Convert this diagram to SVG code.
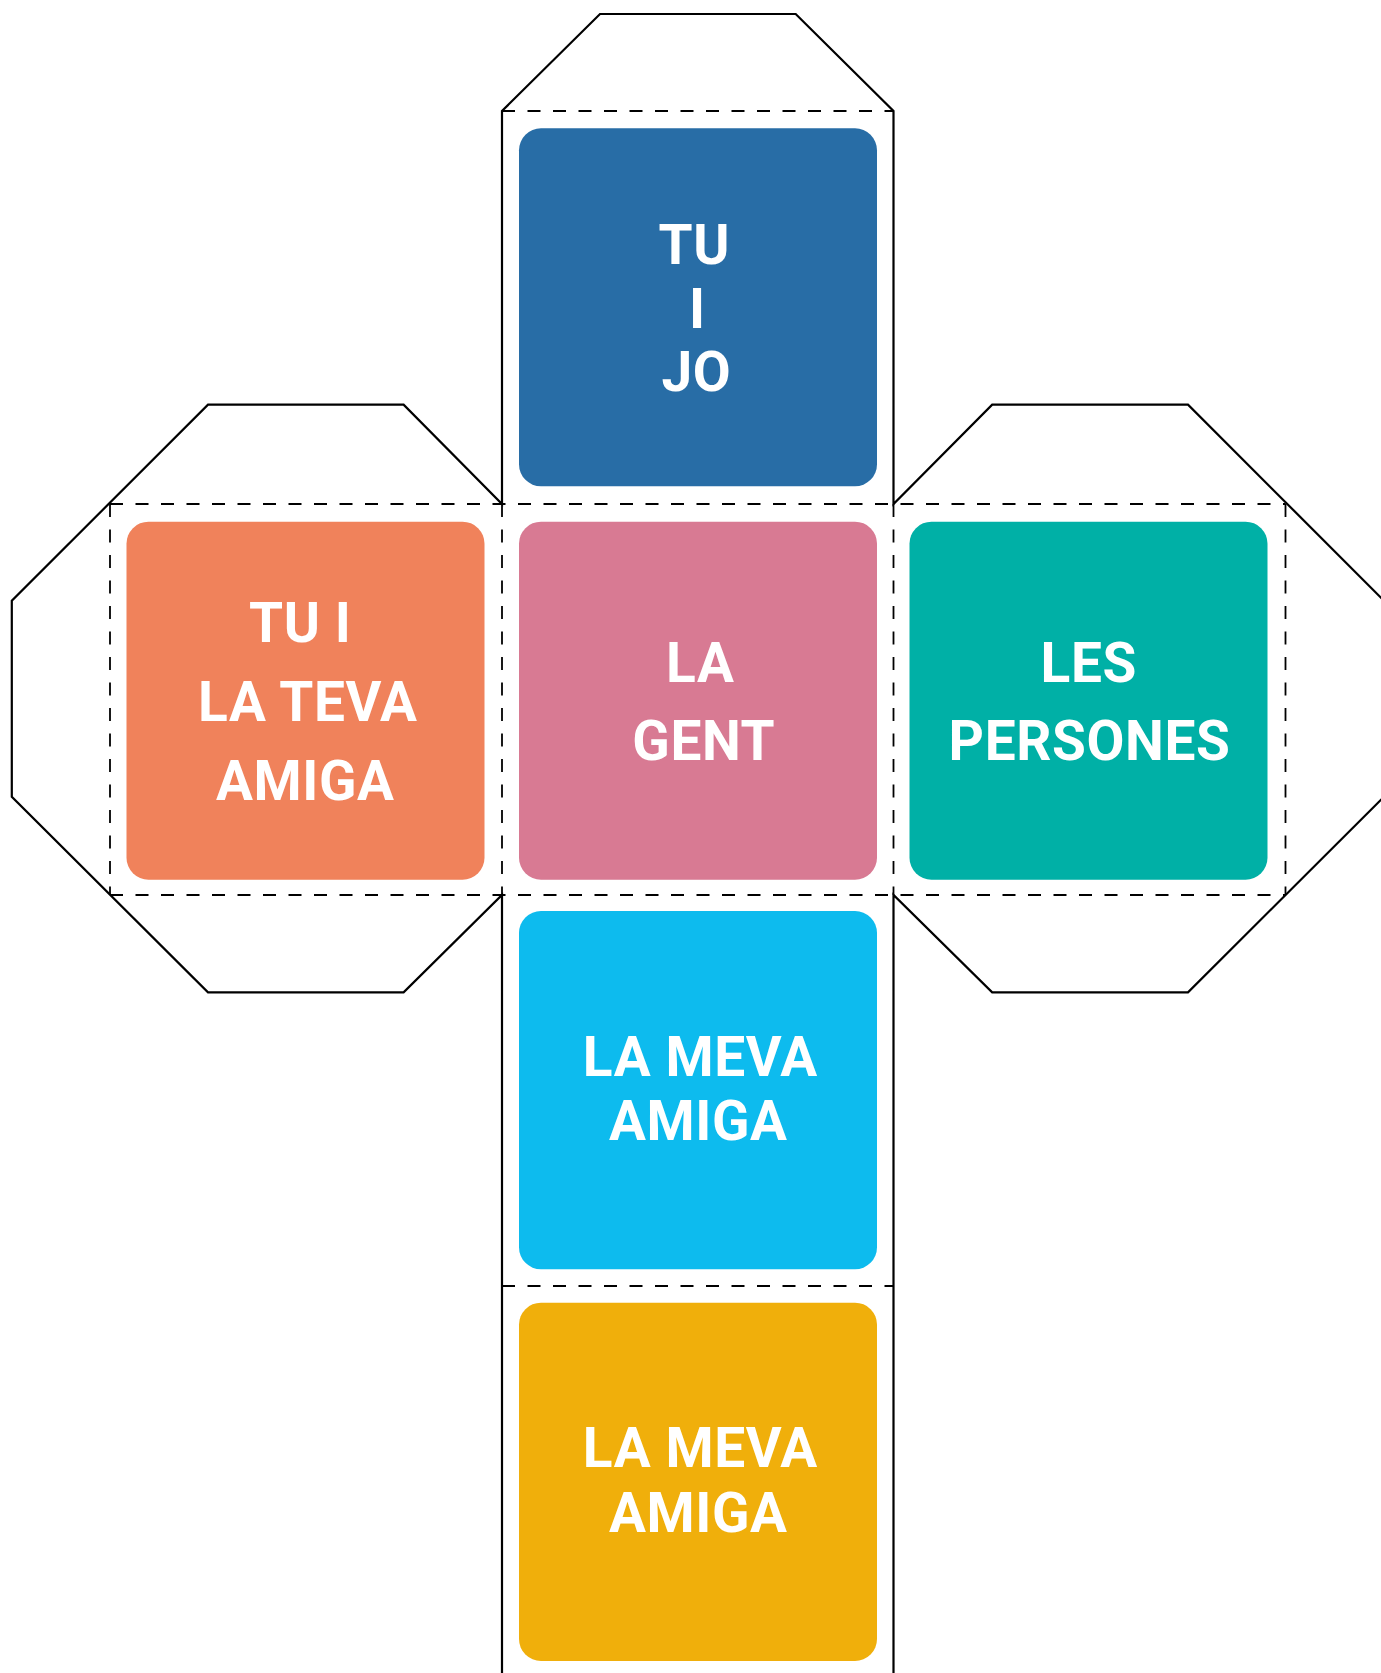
<svg xmlns="http://www.w3.org/2000/svg" width="1381" height="1673" viewBox="0 0 1381 1673">
<style>
.cut{fill:none;stroke:#000;stroke-width:2.2;stroke-linejoin:miter}
.fold{fill:none;stroke:#000;stroke-width:1.8;stroke-dasharray:13 12.5}
.lbl{font-family:Roboto,"Liberation Sans",sans-serif;font-weight:700;font-size:55px;letter-spacing:0.6px;fill:#fff;text-anchor:middle}
</style>
<rect width="1381" height="1673" fill="#fff"/>
<g id="connectors">
<path class="cut" d="M502,1680 V895 L403.6,992.3 H208 L11.8,796.7 V600.7 L208,404.7 H403.6 L502,504 V111 L600,14 H795.7 L893.5,111 V504 L992.2,404.7 H1188 L1384,600.7 V796.7 L1188,992.3 H992.2 L893.5,895 V1680"/>
<path class="fold" d="M502,111 H893.5 M110,504 H1285.5 M110,895 H1285.5 M502,1286 H893.5 M110,504 V895 M502,504 V895 M893.5,504 V895 M1285.5,504 V895"/>
</g>
<g id="face-top">
<rect x="519" y="128.3" width="358" height="358" rx="22" fill="#286DA6"/>
<text class="lbl"><tspan x="694.3" y="264">TU</tspan><tspan x="697.3" y="327.7">I</tspan><tspan x="696.3" y="391">JO</tspan></text>
</g>
<g id="face-left">
<rect x="126.5" y="521.7" width="358" height="358" rx="22" fill="#F0825B"/>
<text class="lbl"><tspan x="300.3" y="642.3">TU I</tspan><tspan x="307.8" y="720.7">LA TEVA</tspan><tspan x="305.3" y="800">AMIGA</tspan></text>
</g>
<g id="face-center">
<rect x="519" y="521.7" width="358" height="358" rx="22" fill="#D87A93"/>
<text class="lbl"><tspan x="700.3" y="682.3">LA</tspan><tspan x="703.8" y="760">GENT</tspan></text>
</g>
<g id="face-right">
<rect x="909.5" y="521.7" width="358" height="358" rx="22" fill="#00B0A6"/>
<text class="lbl"><tspan x="1088.8" y="681.7">LES</tspan><tspan x="1089.5" y="760">PERSONES</tspan></text>
</g>
<g id="face-bottom1">
<rect x="519" y="911" width="358" height="358.3" rx="22" fill="#0DBBEE"/>
<text class="lbl"><tspan x="700.3" y="1075.7">LA MEVA</tspan><tspan x="698.3" y="1140">AMIGA</tspan></text>
</g>
<g id="face-bottom2">
<rect x="519" y="1302.7" width="358" height="358.3" rx="22" fill="#F0AF0B"/>
<text class="lbl"><tspan x="700.3" y="1467.4">LA MEVA</tspan><tspan x="698.3" y="1531.7">AMIGA</tspan></text>
</g>
</svg>
